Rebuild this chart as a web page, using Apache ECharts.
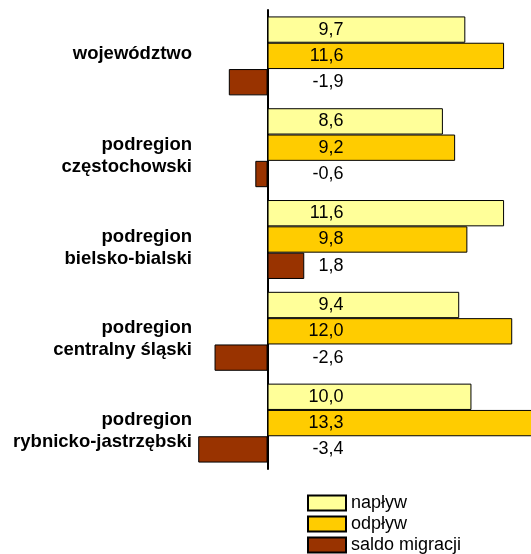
<!DOCTYPE html>
<html><head><meta charset="utf-8">
<script src="https://cdn.jsdelivr.net/npm/echarts@6/dist/echarts.min.js"></script>
<style>html,body{margin:0;padding:0;background:#fff}#c{width:531px;height:554px}</style>
</head><body><div id="c"></div>
<script>
const categories = ['województwo', 'podregion\nczęstochowski', 'podregion\nbielsko-bialski', 'podregion\ncentralny śląski', 'podregion\nrybnicko-jastrzębski'];
const seriesNames = ['napływ', 'odpływ', 'saldo migracji'];
const naplyw = [9.7, 8.6, 11.6, 9.4, 10.0];
const odplyw = [11.6, 9.2, 9.8, 12.0, 13.3];
const saldo = [-1.9, -0.6, 1.8, -2.6, -3.4];

const FONT = "'Liberation Sans', Arial, sans-serif";
const colors = ['#FFFF99', '#FFCC00', '#993300'];

function fmt(p) { return Number(p.value).toFixed(1).replace('.', ','); }
function items(arr) {
  return arr.map(v => ({ value: v, label: { position: v < 0 ? 'right' : 'insideLeft' } }));
}
function catFmt(v) {
  const lines = v.split('\n').map(l => '{b|' + l + '}');
  if (lines.length > 1) return '{padT| }\n' + lines.join('\n');
  return lines.join('\n') + '\n{padB| }';
}
function mkSeries(name, arr, color) {
  return {
    name: name, type: 'bar', data: items(arr),
    barCategoryGap: '14%', barGap: '0%',
    itemStyle: { color: color, borderColor: '#000', borderWidth: 1 },
    label: { show: true, formatter: fmt, align: 'right', distance: 5, offset: [71, 0],
             fontSize: 18, color: '#000', fontFamily: FONT },
    emphasis: { disabled: true }
  };
}

const chart = echarts.init(document.getElementById('c'), null, { renderer: 'canvas' });
chart.setOption({
  animation: false,
  textStyle: { fontFamily: FONT },
  grid: { left: 186, right: -22, top: 10, bottom: 85, containLabel: false, outerBoundsMode: 'none' },
  xAxis: { type: 'value', min: -4, max: 14, show: false },
  yAxis: {
    type: 'category', data: categories, inverse: true,
    axisLine: { show: true, onZero: true, lineStyle: { color: '#000', width: 2 } },
    axisTick: { show: false },
    splitLine: { show: false },
    axisLabel: {
      margin: -6, fontSize: 18.5, fontWeight: 'bold', color: '#000', lineHeight: 22, fontFamily: FONT,
      formatter: catFmt,
      rich: {
        b: { fontSize: 18.5, fontWeight: 'bold', color: '#000', lineHeight: 22, fontFamily: FONT },
        padT: { fontSize: 10, lineHeight: 16, height: 16 },
        padB: { fontSize: 4, lineHeight: 4, height: 4 }
      }
    }
  },
  legend: {
    data: seriesNames, orient: 'vertical', left: 307, top: 494, height: 70, padding: 0,
    itemWidth: 38, itemHeight: 15, itemGap: 3, icon: 'rect',
    textStyle: { fontSize: 18, color: '#000', fontFamily: FONT }
  },
  series: [
    mkSeries(seriesNames[0], naplyw, colors[0]),
    mkSeries(seriesNames[1], odplyw, colors[1]),
    mkSeries(seriesNames[2], saldo, colors[2])
  ]
});
</script>
</body></html>
